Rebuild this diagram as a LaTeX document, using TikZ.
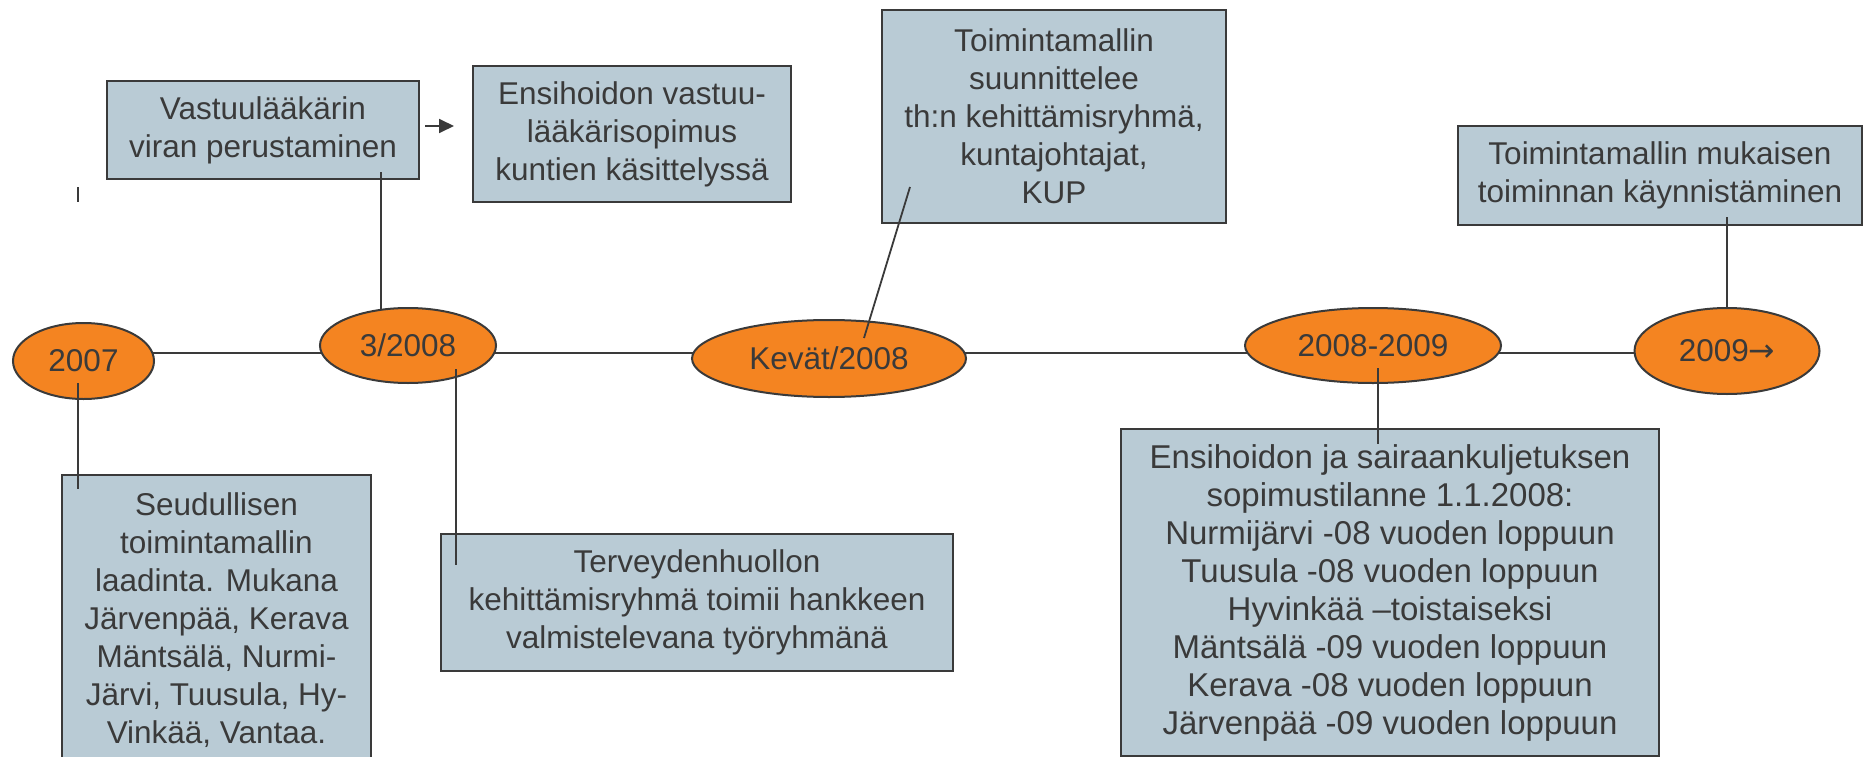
\documentclass[tikz,border=0pt]{standalone}
\usepackage{fontspec}
\setmainfont{Liberation Sans}
\newfontfamily\arrowfont{DejaVu Sans}
\usetikzlibrary{shapes.geometric,arrows.meta}
\definecolor{boxfill}{HTML}{B9CBD5}
\definecolor{datefill}{HTML}{F48421}
\definecolor{ink}{HTML}{3A3A3A}
\tikzset{
  box/.style={draw=ink, line width=2pt, fill=boxfill, text=ink, align=center,
    inner sep=0pt, font=\fontsize{31.5}{38}\selectfont},
  date/.style={ellipse, draw=ink, line width=2pt, fill=datefill, text=ink,
    inner sep=0pt, font=\fontsize{31.5}{38}\selectfont},
  conn/.style={draw=ink, line width=1.8pt},
}
\begin{document}
\begin{tikzpicture}[x=1pt,y=-1pt]
\clip (0,0) rectangle (1865,757);
\fill [white] (0,0) rectangle (1865,757);
% time axis
\coordinate (axisL) at (83,353);
\coordinate (axisR) at (1727,353);
\draw [conn] (axisL) -- (axisR);
% dates
\node [date, minimum width=141pt, minimum height=76pt] (e1) at (83.5,361) {2007};
\node [date, minimum width=176pt, minimum height=75pt] (e2) at (408,345.5) {3/2008};
\node [date, minimum width=274pt, minimum height=77pt] (e3) at (829,358.5) {Kevät/2008};
\node [date, minimum width=256pt, minimum height=75pt] (e4) at (1373,345.5) {2008-2009};
\node [date, minimum width=185pt, minimum height=86pt] (e5) at (1727,351) {2009{\arrowfont →}};
% boxes above
\node [box, minimum width=312pt, minimum height=98pt] (b1) at (263,130)
  {Vastuulääkärin\\viran perustaminen};
\node [box, minimum width=318pt, minimum height=136pt] (b2) at (632,134)
  {Ensihoidon vastuu-\\lääkärisopimus\\kuntien käsittelyssä};
\node [box, minimum width=344pt, minimum height=213pt] (b3) at (1054,116.5)
  {Toimintamallin\\suunnittelee\\th:n kehittämisryhmä,\\kuntajohtajat,\\KUP};
\node [box, minimum width=404pt, minimum height=99pt] (b4) at (1660,175.5)
  {Toimintamallin mukaisen\\toiminnan käynnistäminen};
% boxes below
\node [box, minimum width=309pt, inner ysep=18pt, anchor=north] (b5) at (216.5,474)
  {Seudullisen\\toimintamallin\\laadinta. Mukana\\Järvenpää, Kerava\\Mäntsälä, Nurmi-\\Järvi, Tuusula, Hy-\\Vinkää, Vantaa.};
\node [box, minimum width=512pt, minimum height=137pt] (b6) at (697,602.5)
  {Terveydenhuollon\\kehittämisryhmä toimii hankkeen\\valmistelevana työryhmänä};
\node [box, minimum width=538pt, minimum height=327pt, font=\fontsize{33}{38}\selectfont] (b7) at (1390,592.5)
  {Ensihoidon ja sairaankuljetuksen\\sopimustilanne 1.1.2008:\\Nurmijärvi -08 vuoden loppuun\\Tuusula -08 vuoden loppuun\\Hyvinkää –toistaiseksi\\Mäntsälä -09 vuoden loppuun\\Kerava -08 vuoden loppuun\\Järvenpää -09 vuoden loppuun};
% leaders
\coordinate (l1) at ([xshift=-5.5pt,yshift=-22pt]e1.center);
\draw [conn] (l1) -- ([yshift=-15pt]l1 |- b5.north);
\draw [conn] ([xshift=-39pt,yshift=8pt]b1.south east) -- ([xshift=-39pt,yshift=-3pt]b1.south east |- e2.north);
\coordinate (l2) at ([xshift=48pt,yshift=-23.5pt]e2.center);
\draw [conn] (l2) -- ([yshift=-32pt]l2 |- b6.north);
\draw [conn] ([shift={(29pt,37pt)}]b3.south west) -- ([shift={(35pt,20.5pt)}]e3.center);
\coordinate (l4) at ([xshift=5pt,yshift=-22.5pt]e4.center);
\draw [conn] (l4) -- ([yshift=-16pt]l4 |- b7.north);
\draw [conn] ([yshift=9pt]b4.south -| e5.north) -- (e5.north);
% arrow between the two first boxes
\coordinate (arrowy) at (0,126);
\draw [conn, -{Triangle[length=15pt,width=14pt]}] ([xshift=5pt]b1.east |- arrowy) -- ([xshift=-18pt]b2.west |- arrowy);
% stray mark
\coordinate (mark) at (78,187);
\draw [conn] (mark) -- ++(0,15);
\end{tikzpicture}
\end{document}
